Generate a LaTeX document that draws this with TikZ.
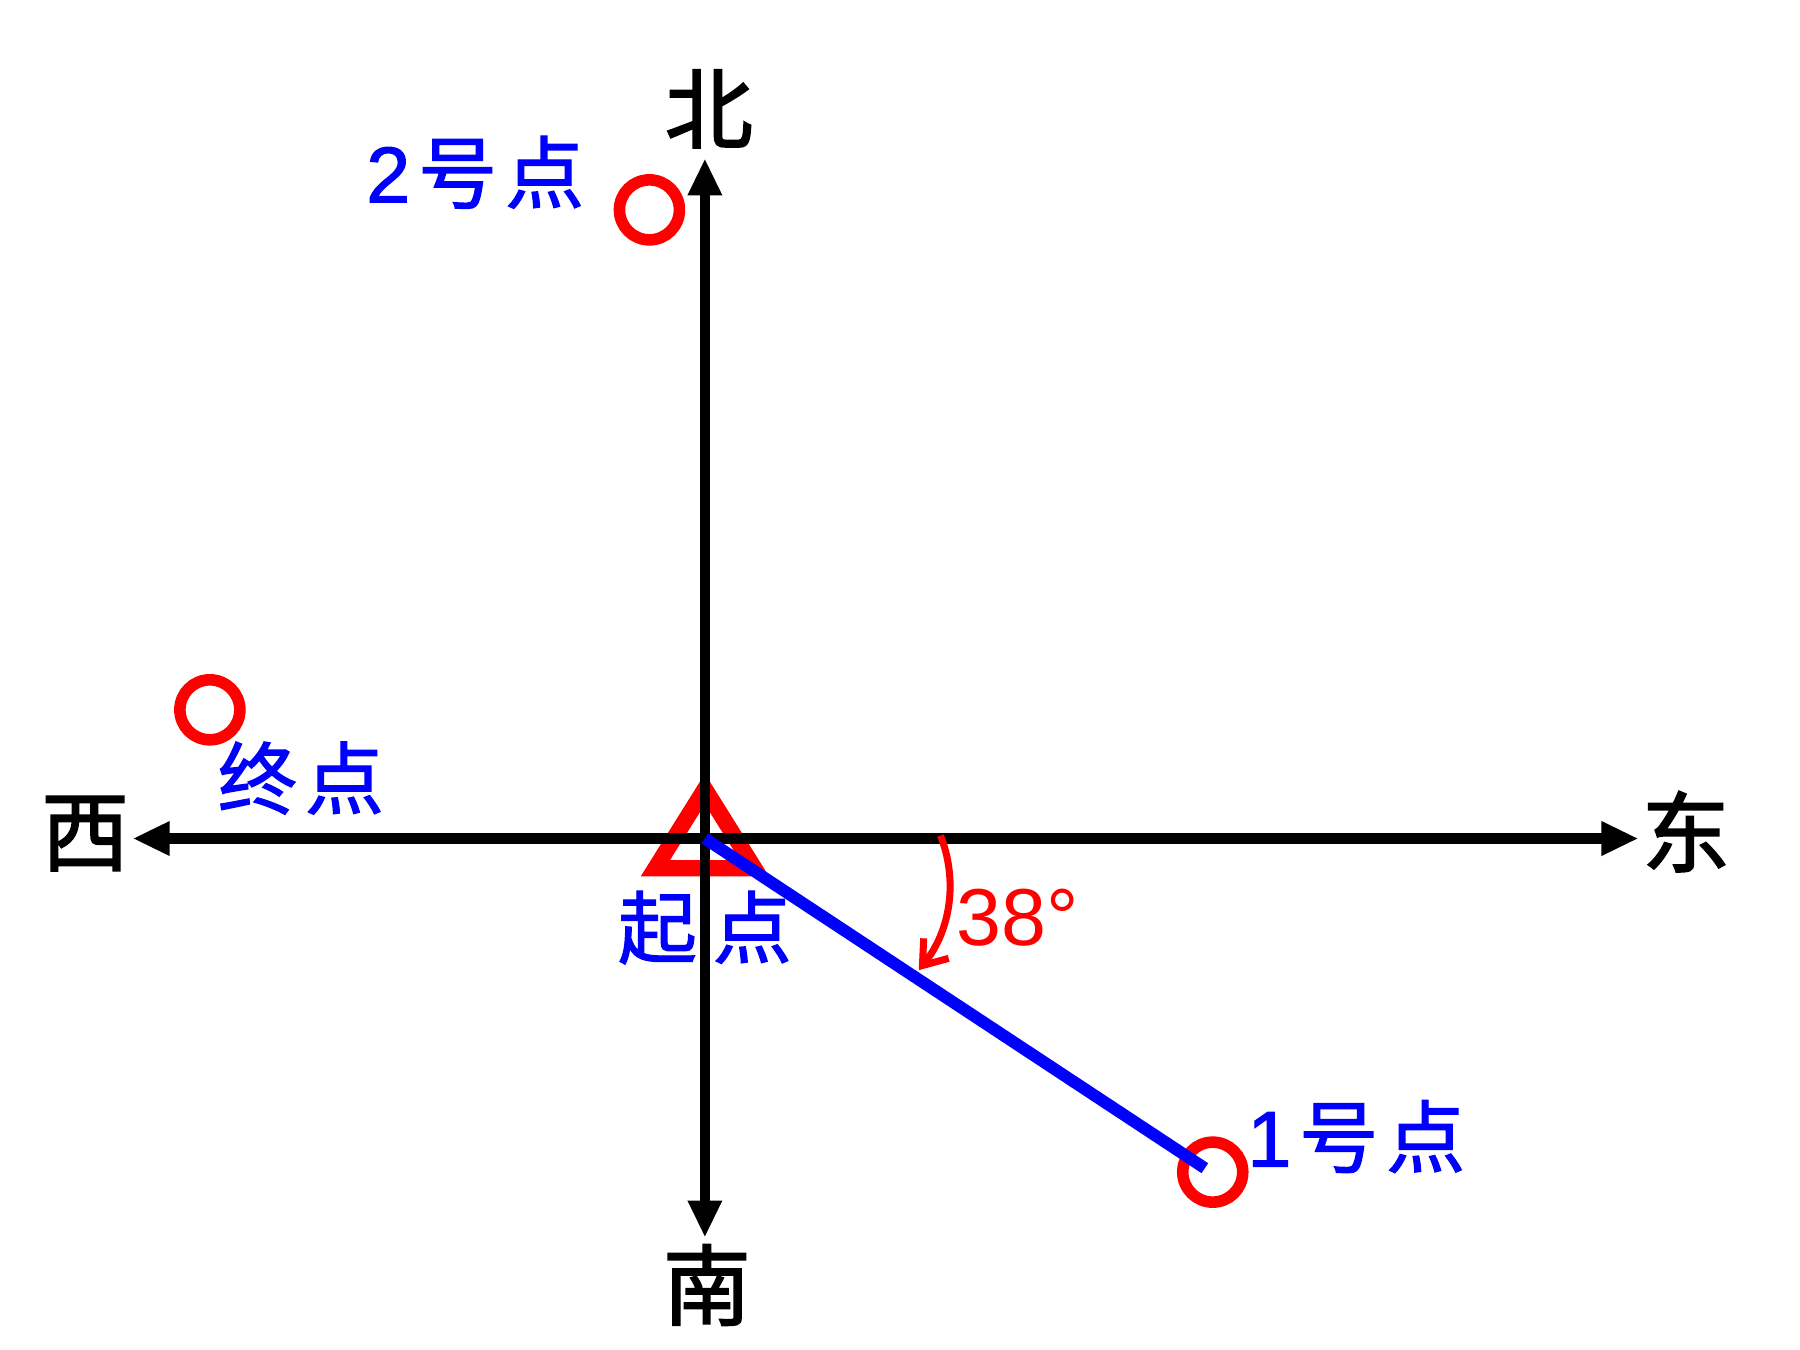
\documentclass[tikz,border=0pt]{standalone}
\usepackage{fontspec}
\newfontfamily\cjk[FakeBold=2]{Noto Sans CJK SC}
\newfontfamily\cjkl[FakeBold=1.5]{Noto Sans CJK SC}
\newfontfamily\arial[FakeBold=1.5]{Liberation Sans}
\newfontfamily\arialn{Liberation Sans}
\usetikzlibrary{arrows.meta}
\begin{document}
\begin{tikzpicture}[x=0.0099cm,y=-0.0099cm,
  axis/.style={line width=3pt,-{Triangle[length=0.37cm,width=0.32cm]}},
  dir/.style={font=\cjk\fontsize{25}{25}\selectfont,text=black},
  lbl/.style={font=\cjkl\fontsize{22.5}{22.5}\selectfont,text=blue},
  ptcircle/.style={circle,draw=red,line width=3.3pt,minimum size=0.6cm,inner sep=0pt},
  ang/.style={red,line width=2pt,-{Straight Barb[length=0.22cm,width=0.32cm]}}]
\useasboundingbox (0,0) rectangle (1818.2,1363.6);
% start triangle
\draw[red,line width=4.6pt,line join=miter] (712,797) -- (762,877) -- (662,877) -- cycle;
\node[lbl] (qidian) at (712,937) {起\hspace{0.2em}点};
% axes
\coordinate (O) at (712,847);
\coordinate (N) at (712,160);
\coordinate (S) at (712,1250);
\coordinate (W) at (134,847);
\coordinate (E) at (1655,847);
\draw[axis] (712,849) -- (N);
\draw[axis] (712,845) -- (S);
\draw[axis] (714,847) -- (W);
\draw[axis] (710,847) -- (E);
\node[dir] (bei) at (716,110) {北};
\node[dir] (nan) at (714,1298) {南};
\node[dir] (xi) at (86,842) {西};
\node[dir] (dong) at (1703,840) {东};
% points
\node[ptcircle] (p2) at (656,212) {};
\node[ptcircle] (pend) at (212,717) {};
\node[ptcircle] (p1) at (1225,1184) {};
\coordinate (p1c) at (1217,1180);
\draw[blue,line width=3.4pt] (O) -- (p1c);
\node[lbl] (l2) at (480,174) {{\arial 2}\hspace{0.1em}号\hspace{0.1em}点};
\node[lbl] (lend) at (304,786) {终\hspace{0.1em}点};
\node[lbl] (l1) at (1370,1148) {{\arial 1}\hspace{0.1em}号\hspace{0.1em}点};
% angle
\coordinate (a1) at (950,844);
\coordinate (a2) at (928,980);
\draw[ang] (a1) .. controls (968,890) and (960,940) .. (a2);
\node[font=\arialn\fontsize{23}{23}\selectfont,text=red] (deg) at (1028,927) {38°};
\end{tikzpicture}
\end{document}
